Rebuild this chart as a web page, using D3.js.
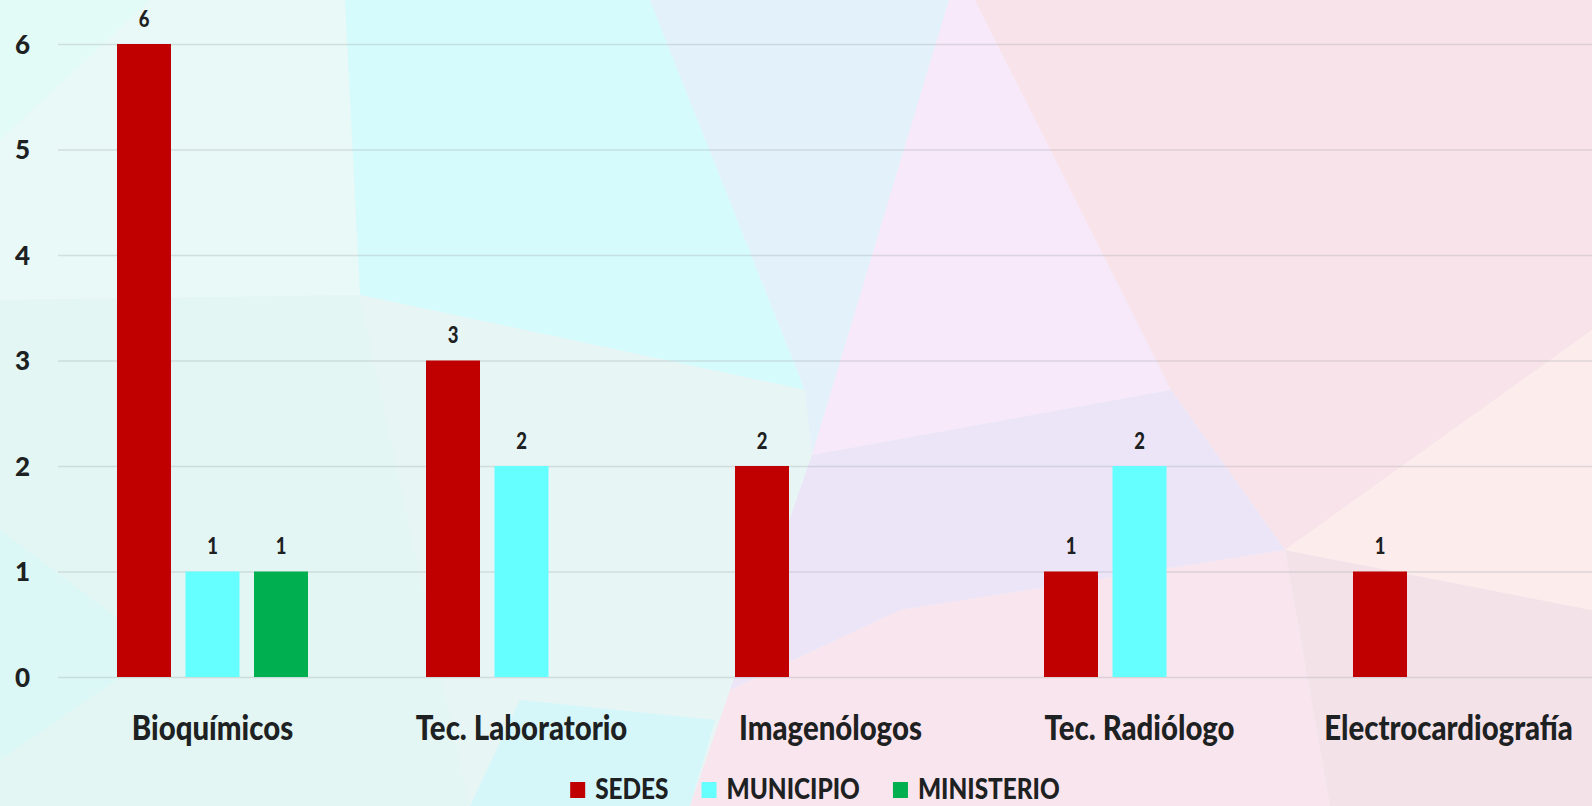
<!DOCTYPE html>
<html>
<head>
<meta charset="utf-8">
<script src="https://cdn.jsdelivr.net/npm/d3@7"></script>
<style>
  html, body { margin: 0; padding: 0; overflow: hidden; background: #eef2f5; }
  svg { display: block; }
  text { font-family: Lato, "Open Sans", sans-serif; font-weight: 900; fill: #1d2122; }
</style>
</head>
<body>
<svg id="chart"></svg>
<script>
// Chart data.
const categories = ["Bioquímicos", "Tec. Laboratorio", "Imagenólogos", "Tec. Radiólogo", "Electrocardiografía"];
const seriesNames = ["SEDES", "MUNICIPIO", "MINISTERIO"];
const sedes = [6, 3, 2, 1, 1];
const municipio = [1, 2, null, 2, null];
const ministerio = [1, null, null, null, null];
const yTicks = [0, 1, 2, 3, 4, 5, 6];

const seriesValues = [sedes, municipio, ministerio];
const seriesColors = ["#c00000", "#66ffff", "#00b050"];

const width = 1592;
const height = 806;
const squeeze = 0.84; // the source text is horizontally condensed

// Pastel low-poly backdrop (decoration only), in page pixels.
const backdrop = [
  ["#e8f9f8", [[0,0],[345,0],[360,295],[0,300]]],
  ["#e3fbf6", [[0,0],[150,0],[0,140]]],
  ["#e3f6f4", [[0,300],[360,295],[470,806],[0,806]]],
  ["#dbf8f7", [[0,530],[160,650],[0,760]]],
  ["#d6fbfc", [[345,0],[650,0],[805,390],[360,295]]],
  ["#e7f5f5", [[360,295],[805,390],[812,455],[690,806],[470,806]]],
  ["#d5f7fa", [[520,700],[715,720],[690,806],[470,806]]],
  ["#e3f1fa", [[650,0],[949,0],[812,455],[805,390]]],
  ["#f7e9f9", [[949,0],[975,0],[1171,390],[812,455]]],
  ["#f9e3ea", [[975,0],[1592,0],[1592,330],[1285,550],[1171,390]]],
  ["#ece5f8", [[812,455],[1171,390],[1285,550],[900,610],[730,690]]],
  ["#f9e5ed", [[730,690],[900,610],[1285,550],[1330,806],[690,806]]],
  ["#f4e2e9", [[1285,550],[1592,610],[1592,806],[1330,806]]],
  ["#fcecec", [[1285,550],[1592,330],[1592,610]]],
];

const svg = d3.select("#chart")
  .attr("width", width)
  .attr("height", height);

svg.append("g")
  .selectAll("polygon")
  .data(backdrop)
  .enter()
  .append("polygon")
    .attr("points", d => d[1].map(p => p.join(",")).join(" "))
    .attr("fill", d => d[0]);

// Scales: one band per category, sub-bands for each series.
const x0 = d3.scaleBand()
  .domain(categories)
  .range([58, 1603]);

const x1 = d3.scaleBand()
  .domain(seriesNames)
  .range([x0.bandwidth() / 2 - 102.75, x0.bandwidth() / 2 + 102.75])
  .paddingInner(0.2117)
  .paddingOuter(0.1058);

const y = d3.scaleLinear()
  .domain([0, 6])
  .range([677, 44]);

// Gridlines and y tick labels.
const yAxis = svg.append("g")
  .attr("transform", "translate(58,0)")
  .call(d3.axisLeft(y)
    .tickValues(yTicks)
    .tickFormat(d3.format("d"))
    .tickSize(-(width - 58))
    .tickPadding(28));

yAxis.select(".domain").remove();
yAxis.selectAll(".tick line")
  .attr("stroke", "#9aa3a6")
  .attr("stroke-opacity", 0.3)
  .attr("stroke-width", 1.4);
yAxis.selectAll(".tick text")
  .attr("font-size", 26)
  .attr("font-family", null)
  .attr("fill", "#1d2122")
  .attr("dy", "0.36em");

// Flatten to one record per drawn bar.
const bars = [];
categories.forEach((c, i) => {
  seriesNames.forEach((s, j) => {
    const v = seriesValues[j][i];
    if (v != null) bars.push({ category: c, series: s, value: v, color: seriesColors[j] });
  });
});

const groups = svg.append("g");

groups.selectAll("rect")
  .data(bars)
  .enter()
  .append("rect")
    .attr("x", d => x0(d.category) + x1(d.series))
    .attr("y", d => y(d.value))
    .attr("width", x1.bandwidth())
    .attr("height", d => y(0) - y(d.value))
    .attr("fill", d => d.color);

// Value labels above the bars.
groups.selectAll("text")
  .data(bars)
  .enter()
  .append("text")
    .attr("text-anchor", "middle")
    .attr("font-size", 22)
    .attr("transform", `scale(${squeeze},1)`)
    .attr("x", d => (x0(d.category) + x1(d.series) + x1.bandwidth() / 2) / squeeze)
    .attr("y", d => y(d.value) - 17)
    .text(d => d.value);

// Category labels.
svg.append("g")
  .selectAll("text")
  .data(categories)
  .enter()
  .append("text")
    .attr("text-anchor", "middle")
    .attr("font-size", 35)
    .attr("transform", `scale(${squeeze},1)`)
    .attr("x", d => (x0(d) + x0.bandwidth() / 2) / squeeze)
    .attr("y", 740)
    .text(d => d);

// Legend, centred under the plot.
const legend = svg.append("g");
const items = legend.selectAll("g")
  .data(seriesNames)
  .enter()
  .append("g");

items.append("rect")
  .attr("y", 782)
  .attr("width", 15)
  .attr("height", 16)
  .attr("fill", (d, i) => seriesColors[i]);

items.append("text")
  .attr("font-size", 29)
  .attr("y", 799)
  .text(d => d);

let offset = 0;
const placed = [];
items.each(function () {
  const w = d3.select(this).select("text").node().getComputedTextLength() * squeeze;
  placed.push(offset);
  offset += 15 + 10 + w + 33;
});
const legendWidth = offset - 33;
const legendStart = 815 - legendWidth / 2;

items.each(function (d, i) {
  const g = d3.select(this);
  const left = legendStart + placed[i];
  g.select("rect").attr("x", left);
  g.select("text")
    .attr("transform", `scale(${squeeze},1)`)
    .attr("x", (left + 25) / squeeze);
});
</script>
</body>
</html>
